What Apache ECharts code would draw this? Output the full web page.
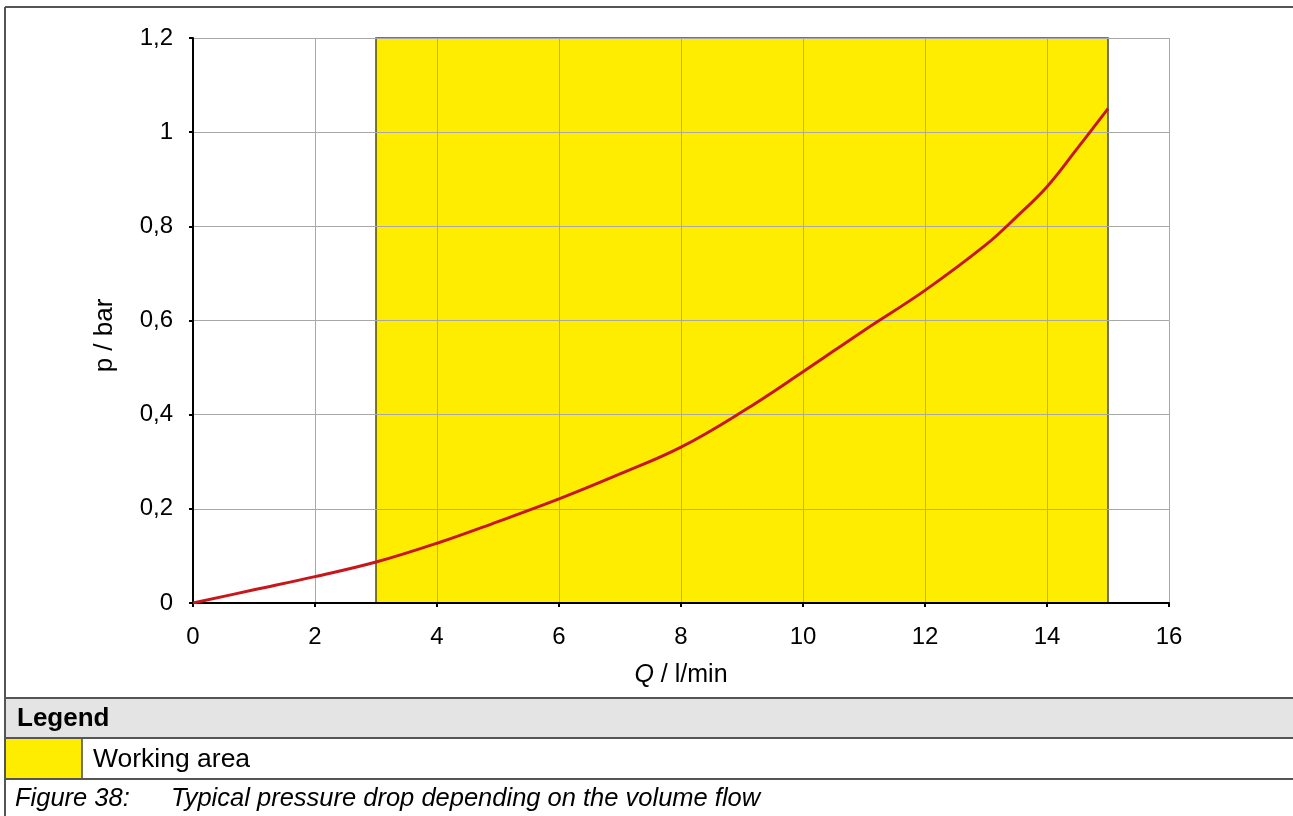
<!DOCTYPE html>
<html>
<head>
<meta charset="utf-8">
<title>Typical pressure drop</title>
<script src="https://cdn.jsdelivr.net/npm/echarts@6/dist/echarts.min.js"></script>
<style>
  html, body { margin: 0; padding: 0; background: #fff; }
  #pressureDrop { width: 1293px; height: 816px; }
</style>
</head>
<body>
<div id="pressureDrop"></div>
<script>
// volume flow Q in l/min and pressure drop p in bar
const flowValues = [0, 1, 2, 3, 4, 5, 6, 7, 8, 9, 10, 11, 12, 13, 13.5, 14, 14.5, 15]
const pressureValues = [0, 0.028, 0.056, 0.087, 0.127, 0.173, 0.221, 0.274, 0.331, 0.406, 0.491, 0.579, 0.664, 0.761, 0.82, 0.884, 0.966, 1.05]
// working area, from / to in l/min
const workingArea = [3, 15]
const legendItems = ['Working area']

const FONT = 'Liberation Sans, Arial, sans-serif'
const YELLOW = '#FFED00'

const chart = echarts.init(document.getElementById('pressureDrop'), null, { renderer: 'canvas' })

const option = {
  animation: false,
  backgroundColor: '#fff',
  textStyle: { fontFamily: FONT, color: '#000' },
  grid: { left: 193, right: 124, top: 38, bottom: 213 },
  xAxis: {
    type: 'value',
    min: 0,
    max: 16,
    interval: 2,
    name: '{i|Q} / l/min',
    nameLocation: 'middle',
    nameGap: 60,
    nameTextStyle: {
      fontSize: 25,
      color: '#000',
      rich: { i: { fontStyle: 'italic', fontSize: 25, color: '#000' } }
    },
    axisLine: { lineStyle: { color: '#000', width: 2 } },
    axisTick: { show: true, length: 4, lineStyle: { color: '#000', width: 2 } },
    axisLabel: { fontSize: 24, color: '#000', margin: 22 },
    splitLine: { show: true, lineStyle: { color: '#a8a8a8', width: 1 } }
  },
  yAxis: {
    type: 'value',
    min: 0,
    max: 1.2,
    interval: 0.2,
    name: 'p / bar',
    nameLocation: 'middle',
    nameGap: 75,
    nameTextStyle: { fontSize: 26, color: '#000', padding: [0, 30, 0, 0] },
    axisLine: { show: true, lineStyle: { color: '#000', width: 2 } },
    axisTick: { show: true, length: 4, lineStyle: { color: '#000', width: 2 } },
    axisLabel: {
      fontSize: 24,
      color: '#000',
      margin: 20,
      formatter: function (v) { return String(Number(v.toFixed(1))).replace('.', ',') }
    },
    splitLine: { show: true, lineStyle: { color: '#a8a8a8', width: 1 } }
  },
  series: [
    {
      // yellow working area, drawn under the grid lines
      name: 'Working area',
      type: 'custom',
      z: -1,
      silent: true,
      data: [workingArea],
      renderItem: function (params, api) {
        const p0 = api.coord([api.value(0), 1.2])
        const p1 = api.coord([api.value(1), 0])
        return {
          type: 'rect',
          shape: { x: p0[0], y: p0[1], width: p1[0] - p0[0], height: p1[1] - p0[1] },
          style: { fill: YELLOW, stroke: '#4a4a24', lineWidth: 1.5 }
        }
      }
    },
    {
      name: 'p',
      type: 'line',
      smooth: 0.4,
      showSymbol: false,
      lineStyle: { color: '#C8161D', width: 3 },
      data: flowValues.map((q, i) => [q, pressureValues[i]])
    }
  ],
  graphic: [
    // outer frame
    { type: 'line', shape: { x1: 5, y1: 7, x2: 1293, y2: 7 }, style: { stroke: '#555', lineWidth: 2 } },
    { type: 'line', shape: { x1: 5, y1: 7, x2: 5, y2: 816 }, style: { stroke: '#555', lineWidth: 2 } },
    // legend table
    { type: 'rect', shape: { x: 6, y: 698, width: 1287, height: 40 }, style: { fill: '#e4e4e4' } },
    { type: 'line', shape: { x1: 5, y1: 698, x2: 1293, y2: 698 }, style: { stroke: '#555', lineWidth: 2 } },
    { type: 'line', shape: { x1: 5, y1: 738, x2: 1293, y2: 738 }, style: { stroke: '#555', lineWidth: 2 } },
    { type: 'line', shape: { x1: 5, y1: 779, x2: 1293, y2: 779 }, style: { stroke: '#555', lineWidth: 2 } },
    { type: 'rect', shape: { x: 6, y: 739, width: 76, height: 39 }, style: { fill: YELLOW } },
    { type: 'line', shape: { x1: 82, y1: 739, x2: 82, y2: 778 }, style: { stroke: '#4a4a24', lineWidth: 1.5 } },
    {
      type: 'text', x: 17, y: 719,
      style: { text: 'Legend', font: 'bold 26px ' + FONT, fill: '#000', verticalAlign: 'middle' }
    },
    {
      type: 'text', x: 93, y: 760,
      style: { text: legendItems[0], font: '26.5px ' + FONT, fill: '#000', verticalAlign: 'middle' }
    },
    {
      type: 'text', x: 15, y: 799,
      style: { text: 'Figure 38:', font: 'italic 25.5px ' + FONT, fill: '#000', verticalAlign: 'middle' }
    },
    {
      type: 'text', x: 171, y: 799,
      style: { text: 'Typical pressure drop depending on the volume flow', font: 'italic 25.5px ' + FONT, fill: '#000', verticalAlign: 'middle' }
    }
  ]
}

chart.setOption(option)
</script>
</body>
</html>
